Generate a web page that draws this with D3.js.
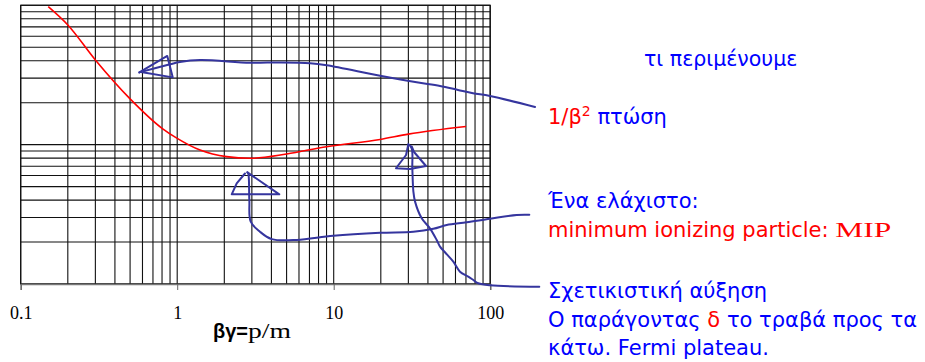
<!DOCTYPE html>
<html><head><meta charset="utf-8">
<script src="https://cdn.jsdelivr.net/npm/d3@7"></script>
<style>body{margin:0;background:#fff}svg{display:block}</style>
</head><body>
<svg id="c" width="925" height="362"></svg>
<script>
// ---- data ----
const curveX = [0.15, 0.2, 0.3, 0.5, 0.8, 1.0, 1.4, 2.07, 2.92, 5.0, 9.0, 19.8, 30, 70];
const curveY = [97.7, 72.2, 40.5, 21.3, 13.1, 11.1, 9.15, 8.2, 7.98, 8.57, 9.67, 10.9, 11.9, 13.5];
const xTickValues = [0.1, 1, 10, 100];
const xTickLabels = ["0.1", "1", "10", "100"];
// hand-drawn annotation strokes (data units)
const strokeA_X = [193.4, 99.7, 77.6, 62.3, 47.8, 33.9, 19.8, 9.02, 7.06, 4.54, 2.92, 1.40, 1.04, 0.90, 0.573];
const strokeA_Y = [18.63, 22.35, 23.4, 24.7, 26.4, 28.0, 31.2, 37.1, 38.4, 38.9, 38.7, 40.5, 39.2, 37.7, 33.0];
const headA_X = [0.573, 0.864, 0.936, 0.587];
const headA_Y = [33.0, 43.3, 30.4, 33.2];
const strokeB_X = [177.8, 147.7, 99.7, 70.7, 52.7, 43.3, 32.3, 19.8, 9.94, 5.80, 4.02, 3.38, 2.95, 2.89, 2.85, 2.81];
const strokeB_Y = [3.14, 3.13, 2.94, 2.77, 2.65, 2.49, 2.37, 2.33, 2.22, 2.07, 2.10, 2.37, 2.80, 4.01, 6.16, 6.33];
const headB_X = [2.81, 4.49, 2.23, 2.40, 2.71];
const headB_Y = [6.33, 4.40, 4.40, 5.28, 6.21];
const strokeC_X = [205.9, 99.7, 83.9, 78.0, 72.4, 64.1, 58.1, 51.4, 47.8, 45.5, 41.2, 36.5, 33.1, 32.3, 31.8, 31.5, 30.0];
const strokeC_Y = [0.956, 0.979, 1.012, 1.068, 1.128, 1.225, 1.446, 1.689, 1.853, 2.07, 2.51, 2.96, 3.90, 4.60, 6.77, 9.41, 10.06];
const headC_X = [30.0, 29.0, 25.0, 30.7, 38.9, 32.6, 31.5];
const headC_Y = [10.06, 8.43, 6.77, 6.69, 7.03, 8.86, 9.70];

const svg = d3.select("#c");
const x = d3.scaleLog().domain([0.1, 100]).range([20.7, 490.2]);
const y = d3.scaleLog().domain([1, 100]).range([284, 5.3]);

// grid
const g = svg.append("g");
g.selectAll("line.vx").data(x.ticks()).join("line")
  .attr("x1", d => x(d)).attr("x2", d => x(d)).attr("y1", y(1)).attr("y2", y(100))
  .attr("stroke", "#111").attr("stroke-width", 1.1);
g.selectAll("line.hy").data(y.ticks()).join("line")
  .attr("y1", d => y(d)).attr("y2", d => y(d)).attr("x1", x(0.1)).attr("x2", x(100))
  .attr("stroke", "#111").attr("stroke-width", 1.1);
g.append("rect").attr("x", x(0.1)).attr("y", y(100)).attr("width", x(100) - x(0.1)).attr("height", y(1) - y(100))
  .attr("fill", "none").attr("stroke", "#111").attr("stroke-width", 1.2);

// x axis
const ax = d3.axisBottom(x).tickValues(xTickValues).tickFormat((d, i) => xTickLabels[i]).tickSize(6).tickPadding(16);
const axg = svg.append("g").attr("transform", `translate(0,${y(1)})`).call(ax);
axg.select(".domain").attr("stroke", "#777").attr("stroke-width", 1.5);
axg.selectAll(".tick line").attr("stroke", "#666");
axg.selectAll("text").attr("font-family", "'Liberation Serif','Times New Roman',serif").attr("font-size", 18).attr("fill", "#000");

// axis title
const at = svg.append("text").attr("x", 213).attr("y", 338);
at.append("tspan").attr("font-family", "'Liberation Sans',Arial,sans-serif").attr("font-weight", "bold").attr("font-size", 20).text("βγ=");
at.append("tspan").attr("font-family", "'Liberation Serif','Times New Roman',serif").attr("font-size", 22)
  .attr("textLength", 43).attr("lengthAdjust", "spacingAndGlyphs").text("p/m");

// red curve
const pts = curveX.map((v, i) => [v, curveY[i]]);
svg.append("path").datum(pts)
  .attr("d", d3.line().x(d => x(d[0])).y(d => y(d[1])).curve(d3.curveMonotoneX))
  .attr("fill", "none").attr("stroke", "#ff0000").attr("stroke-width", 1.6);

// annotations strokes
const blue = "#35359e";
function stroke(xs, ys, curve) {
  svg.append("path").datum(xs.map((v, i) => [v, ys[i]]))
    .attr("d", d3.line().x(d => x(d[0])).y(d => y(d[1])).curve(curve))
    .attr("fill", "none").attr("stroke", blue).attr("stroke-width", 2)
    .attr("stroke-linejoin", "round").attr("stroke-linecap", "round");
}
stroke(strokeA_X, strokeA_Y, d3.curveCatmullRom.alpha(0.5));
stroke(headA_X, headA_Y, d3.curveLinear);
stroke(strokeB_X, strokeB_Y, d3.curveCatmullRom.alpha(0.5));
stroke(headB_X, headB_Y, d3.curveLinear);
stroke(strokeC_X, strokeC_Y, d3.curveCatmullRom.alpha(0.5));
stroke(headC_X, headC_Y, d3.curveLinear);

// texts
const sans = "'DejaVu Sans',Verdana,sans-serif";
function txt(xp, yp, parts, size) {
  const t = svg.append("text").attr("x", xp).attr("y", yp).attr("font-family", sans).attr("font-size", size || 21);
  parts.forEach(p => {
    const s = t.append("tspan").attr("fill", p.c).text(p.t);
    if (p.f) s.attr("font-family", p.f);
    if (p.fs) s.attr("font-size", p.fs);
    if (p.len) s.attr("textLength", p.len).attr("lengthAdjust", "spacingAndGlyphs");
    if (p.sup) s.attr("dy", -8).attr("font-size", 14);
    if (p.dy) s.attr("dy", p.dy);
  });
}
const B = "#0000ff", R = "#ff0000";
txt(644, 66, [{t: "τι περιμένουμε", c: B}], 20.5);
txt(548, 124, [{t: "1/β", c: R}, {t: "2", c: R, sup: true}, {t: " πτώση", c: B, dy: 8}]);
txt(548, 208, [{t: "Ένα ελάχιστο:", c: B}]);
txt(548, 237, [{t: "minimum ionizing particle: ", c: R}, {t: "MIP", c: R, f: "'Liberation Serif','Times New Roman',serif", fs: 21, len: 56}]);
txt(548, 298, [{t: "Σχετικιστική αύξηση", c: B}]);
txt(548, 327, [{t: "Ο παράγοντας  ", c: B}, {t: "δ", c: R}, {t: " το τραβά προς τα", c: B}]);
txt(548, 355, [{t: "κάτω", c: B}, {t: ". Fermi plateau.", c: B}]);
</script>
</body></html>
